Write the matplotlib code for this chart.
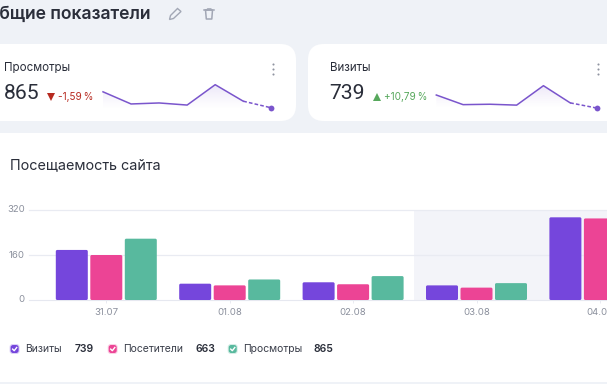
import numpy as np
import matplotlib.pyplot as plt
from matplotlib.patches import FancyBboxPatch, Polygon, Rectangle

plt.rcParams['font.family'] = ['Inter', 'DejaVu Sans']

W, H = 607, 384

# chart data
days = ['31.07', '01.08', '02.08', '03.08', '04.08']
visits = [178, 58, 63, 52, 294]
visitors = [160, 52, 56, 44, 290]
views = [218, 73, 85, 60, 298]
y_ticks = [0, 160, 320]

# sparklines, one value per day
spark_views = [218, 73, 85, 60, 303, 106, 27]
spark_visits = [178, 58, 63, 52, 294, 80, 15]

legend_names = ['Визиты', 'Посетители', 'Просмотры']
legend_totals = [739, 663, 865]

PURPLE = '#7546dc'
PINK = '#ec4495'
GREEN = '#58b99e'
LINE = '#7a55cc'
DARK = '#2a2e3a'
GREY = '#8a8f9c'
ICON = '#a2a7b5'


def px_axes(fig, x0, y0, x1, y1):
    # axes from pixel box, y counted from the top
    ax = fig.add_axes([x0 / W, 1 - y1 / H, (x1 - x0) / W, (y1 - y0) / H])
    return ax


def rounded(ax, x0, y0, x1, y1, r, color, **kw):
    p = FancyBboxPatch((x0 + r, y0 + r), x1 - x0 - 2 * r, y1 - y0 - 2 * r,
                       boxstyle=f'round,pad={r},rounding_size={r}',
                       fc=color, ec='none', **kw)
    ax.add_patch(p)
    return p


def sparkline(fig, box, values, ylim):
    ax = px_axes(fig, *box)
    ax.axis('off')
    x = np.arange(len(values))
    # gradient under the line
    rgba = np.zeros((64, 1, 4))
    rgba[..., :3] = (0.48, 0.33, 0.8)
    rgba[..., 3] = np.linspace(0.2, 0, 64).reshape(-1, 1) ** 1.2
    im = ax.imshow(rgba, extent=(0, len(values) - 1, 15, 310), aspect='auto', origin='upper')
    verts = list(zip(x[:6], values[:6])) + [(5, ylim[0]), (0, ylim[0])]
    clip = Polygon(verts, transform=ax.transData, fc='none', ec='none')
    ax.add_patch(clip)
    im.set_clip_path(clip)
    ax.set_xlim(0, len(values) - 1)
    ax.set_ylim(*ylim)
    ax.plot(x[:6], values[:6], color=LINE, lw=1.1, clip_on=False)
    ax.plot(x[5:], values[5:], color=LINE, lw=1.1, dashes=(2.4, 1.4), clip_on=False)
    ax.plot(x[6], values[6], 'o', color=LINE, ms=4.2, mew=0, clip_on=False)


fig = plt.figure(figsize=(W / 100, H / 100), dpi=100, facecolor='#eff2f7')

# page layer in pixels
bg = fig.add_axes([0, 0, 1, 1])
bg.set_xlim(0, W)
bg.set_ylim(H, 0)
bg.axis('off')

rounded(bg, -30, 44, 296, 121, 16, 'white')
rounded(bg, 308, 44, 640, 121, 16, 'white')
bg.add_patch(Rectangle((0, 133), W, 249, fc='white', ec='none'))

bg.text(150, 14, 'Общие показатели', ha='right', va='center', fontsize=12.6,
        fontweight='semibold', color=DARK)

# pencil icon
bg.add_patch(Polygon([(169.5, 19.5), (170.5, 15.5), (177.5, 8.5), (181, 11.5), (173.5, 18.5)],
                     fc='none', ec=ICON, lw=1))
# trash icon
bg.plot([204, 214], [10, 10], color=ICON, lw=1.1)
bg.plot([207, 207.5, 211, 211.5], [9.8, 8.8, 8.8, 9.8], color=ICON, lw=0.9)
bg.plot([205.5, 206.3, 211.8, 212.5, 205.5], [10, 19, 19, 10, 10], color=ICON, lw=1.1)

# cards
bg.text(4, 68, 'Просмотры', ha='left', va='center', fontsize=8.3, color=DARK)
bg.text(3.5, 93.3, '865', ha='left', va='center', fontsize=15.2, color=DARK, family='Roboto')
bg.plot([50.7], [96.5], marker='v', color='#b72a20', ms=5.4, mew=0)
bg.text(58, 97, '-1,59\u2009%', ha='left', va='center', fontsize=7.2, color='#b72a20')

bg.text(330, 68, 'Визиты', ha='left', va='center', fontsize=8.3, color=DARK)
bg.text(329.5, 93.3, '739', ha='left', va='center', fontsize=15.2, color=DARK, family='Roboto')
bg.plot([376.5], [97], marker='^', color='#57a85c', ms=5.8, mew=0)
bg.text(384, 97, '+10,79\u2009%', ha='left', va='center', fontsize=7.2, color='#57a85c')

for dot_x in [272.7, 598]:
    bg.plot([dot_x] * 3, [64, 69, 73.7], 'o', color='#8f94a0', ms=1.5, mew=0)

bg.text(10, 165, 'Посещаемость сайта', ha='left', va='center', fontsize=10.35, color=DARK)

# legend
marks = [(14.6, PURPLE), (112.7, PINK), (232.7, GREEN)]
names_x = [25.5, 123.5, 243.5]
totals_x = [75, 195, 313.5]
for (mx, col), name, nx, total, tx in zip(marks, legend_names, names_x, legend_totals, totals_x):
    rounded(bg, mx - 5, 349 - 5, mx + 5, 349 + 5, 3, col, alpha=0.25)
    rounded(bg, mx - 4, 349 - 4, mx + 4, 349 + 4, 2.5, col)
    bg.plot([mx - 2, mx - 0.4, mx + 2.1], [349.1, 350.7, 347.5], color='white', lw=1)
    bg.text(nx, 348.5, name, ha='left', va='center', fontsize=7.5, color='#3a3e4a')
    bg.text(tx, 348.5, str(total), ha='left', va='center', fontsize=7.5,
            fontweight='semibold', color=DARK)

# sparklines in their cards
sparkline(fig, (103, 80, 271.3, 110.5), spark_views, (-5, 359))
sparkline(fig, (436.3, 80, 597, 110.5), spark_visits, (-15, 365))

# bar chart, x axis stretched so one day is 123.4 px
ax = px_axes(fig, 0, 205, W, 300)
ax.patch.set_alpha(0)
day_px = 123.4
first_px = 106.3
left = -first_px / day_px
right = (W - first_px) / day_px
ax.set_xlim(left, right)
ax.set_ylim(0, 320 * 95 / 90)
x = np.arange(len(days))
ax.axvspan(2.49, right, ymin=0, ymax=90 / 95, color='#f3f4f9', lw=0, zorder=0)
bar_w = 32 / day_px
step = 34.5 / day_px
y_px = 90 / 320
for off, vals, col in [(-step, visits, PURPLE), (0, visitors, PINK), (step, views, GREEN)]:
    bars = ax.bar(x + off, vals, width=bar_w, color=col, zorder=3)
    for b in bars:
        # swap the square bar for one with small round corners
        b.set_visible(False)
        r = 1.5 / day_px
        ax.add_patch(FancyBboxPatch((b.get_x() + r, r * day_px / y_px),
                                    b.get_width() - 2 * r, b.get_height() - 2 * r * day_px / y_px,
                                    boxstyle=f'round,pad={r},rounding_size={r}',
                                    mutation_aspect=day_px / y_px,
                                    fc=col, ec='none', zorder=3))

for s in ['top', 'left', 'right']:
    ax.spines[s].set_visible(False)
ax.spines['bottom'].set_bounds(left + 29 / day_px, right)
ax.spines['bottom'].set_color('#e6e8f0')
ax.set_xticks(x)
ax.set_xticklabels(days)
ax.set_yticks([])
ax.tick_params(axis='x', length=2, width=0.6, color='#e6e8f0', labelsize=6.9,
               labelcolor=GREY, pad=4)
for v in y_ticks[1:]:
    ax.plot([left + 29 / day_px, right], [v, v], color='#e9ebf2', lw=0.9, zorder=1)
ax.set_xlim(left, right)
for v in y_ticks:
    ax.text(25 / W, v, str(v), transform=ax.get_yaxis_transform(), ha='right', va='center',
            fontsize=6.9, color=GREY)

fig.savefig('out.png', dpi=100, facecolor=fig.get_facecolor())
